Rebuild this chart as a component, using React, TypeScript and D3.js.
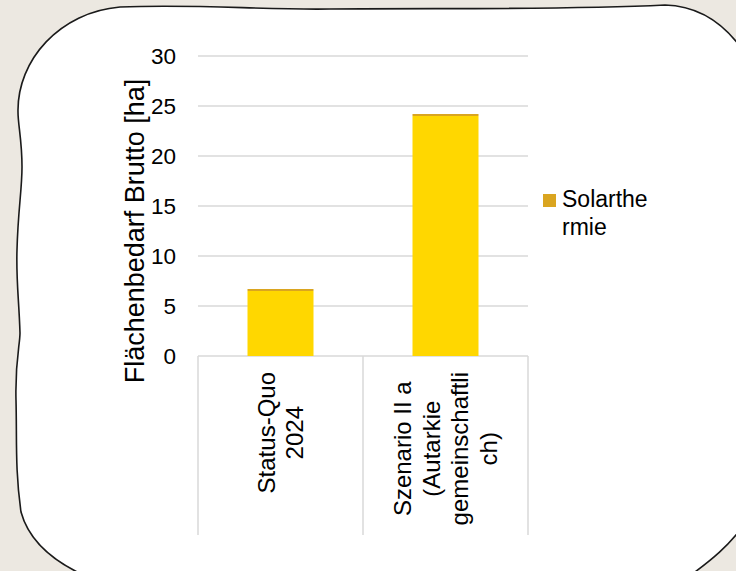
import React from "react";
import * as d3 from "d3";

const categories: string[][] = [
  ["Status-Quo", "2024"],
  ["Szenario II a", "(Autarkie", "gemeinschaftli", "ch)"],
];
const baseValues = [6.5, 24.0];
const solarValues = [0.2, 0.2];
const yTicks = [0, 5, 10, 15, 20, 25, 30];
const legendLines = ["Solarthe", "rmie"];
const yTitle = "Flächenbedarf Brutto [ha]";

const FONT = "'Liberation Sans', Arial, sans-serif";

function measure(text: string, size: number): number {
  if (typeof document === "undefined") return text.length * size * 0.5;
  const c = document.createElement("canvas");
  const ctx = c.getContext("2d");
  if (!ctx) return text.length * size * 0.5;
  ctx.font = `${size}px ${FONT}`;
  return ctx.measureText(text).width;
}

export default function App() {
  const W = 736;
  const H = 571;
  const keys = categories.map((c) => c.join(" "));
  const x = d3.scaleBand<string>().domain(keys).range([198, 528]).paddingInner(0.6).paddingOuter(0.3);
  const y = d3.scaleLinear().domain([0, 30]).range([356, 56]);

  const rows = keys.map((k, i) => ({ key: k, base: baseValues[i], solar: solarValues[i] }));
  const stack = d3.stack<any>().keys(["base", "solar"])(rows);
  const colors: Record<string, string> = { base: "#FFD700", solar: "#DAA520" };

  const step = x.step();
  const sepXs = d3.range(keys.length + 1).map((i) => 198 + i * step);

  const borderPath =
    "M18,112 C17,60 60,12 120,7 C200,4 260,10 330,9 C450,8 560,10 665,5 C700,6 725,24 744,52 L760,300 L746,522 C730,545 712,560 684,580 L400,592 L95,580 C60,566 30,545 21,512 C15,470 17,440 16,400 C15,360 20,345 20,333 C19,300 16,280 17,250 C18,210 22,190 22,167 C22,140 18,125 18,112 Z";

  const labelSize = 24;
  const lh = 28.5;

  return (
    <svg width={W} height={H} style={{ position: "absolute", left: 0, top: 0, fontFamily: FONT }}>
      <rect x={0} y={0} width={W} height={H} fill="#ECE8E1" />
      <path d={borderPath} fill="#ffffff" stroke="#1a1a1a" strokeWidth={1.6} />

      {/* gridlines */}
      {yTicks.map((t) => (
        <line key={t} x1={198} x2={528} y1={y(t)} y2={y(t)} stroke="#d9d9d9" strokeWidth={1.5} />
      ))}
      {/* category separators */}
      {sepXs.map((sx, i) => (
        <line key={i} x1={sx} x2={sx} y1={y(0)} y2={535} stroke="#d9d9d9" strokeWidth={1.5} />
      ))}

      {/* bars */}
      {stack.map((s) =>
        s.map((d, i) => (
          <rect
            key={s.key + i}
            x={x(keys[i])}
            width={x.bandwidth()}
            y={y(d[1])}
            height={y(d[0]) - y(d[1])}
            fill={colors[s.key]}
          />
        ))
      )}

      {/* y tick labels */}
      {yTicks.map((t) => (
        <text key={t} x={176} y={y(t)} dy="0.36em" textAnchor="end" fontSize={22.5} fill="#000">
          {t}
        </text>
      ))}

      {/* y title */}
      <text
        transform={`translate(144, 231) rotate(-90)`}
        textAnchor="middle"
        fontSize={27}
        fill="#000"
      >
        {yTitle}
      </text>

      {/* category labels */}
      {categories.map((lines, ci) => {
        const cx = (x(keys[ci]) as number) + x.bandwidth() / 2;
        const maxW = d3.max(lines, (l) => measure(l, labelSize)) as number;
        const cy = 372 + maxW / 2;
        const bx = cx - ((lines.length - 1) * lh) / 2 + 8.5;
        return (
          <text
            key={ci}
            transform={`translate(${bx}, ${cy}) rotate(-90)`}
            textAnchor="middle"
            fontSize={labelSize}
            fill="#000"
          >
            {lines.map((l, li) => (
              <tspan key={li} x={0} dy={li === 0 ? 0 : lh}>
                {l}
              </tspan>
            ))}
          </text>
        );
      })}

      {/* legend */}
      <rect x={543} y={194} width={13} height={13} fill={colors.solar} />
      <text x={562} y={207} fontSize={23} fill="#000">
        {legendLines.map((l, i) => (
          <tspan key={i} x={562} dy={i === 0 ? 0 : 28}>
            {l}
          </tspan>
        ))}
      </text>
    </svg>
  );
}
